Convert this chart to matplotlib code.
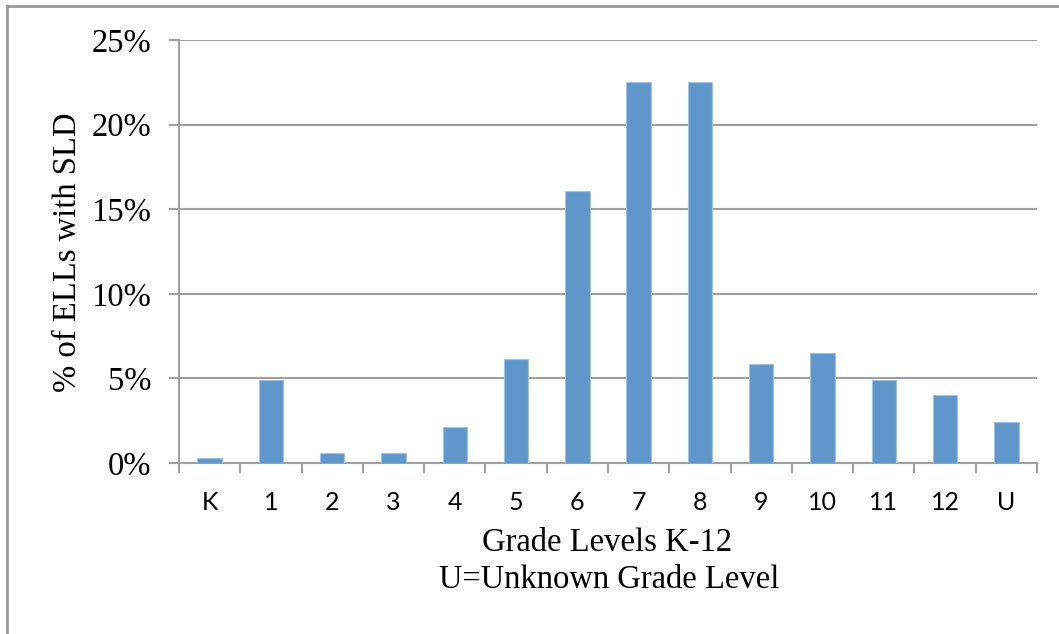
import matplotlib
matplotlib.use("Agg")
import matplotlib.pyplot as plt
from matplotlib.lines import Line2D
import numpy as np

# share of ELLs with SLD by grade level
grades = ["K", "1", "2", "3", "4", "5", "6", "7", "8", "9", "10", "11", "12", "U"]
pct_sld = [0.3, 4.9, 0.6, 0.6, 2.15, 6.15, 16.05, 22.5, 22.5, 5.85, 6.5, 4.9, 4.0, 2.45]
y_ticks = [0, 5, 10, 15, 20, 25]

W, H = 1059, 634
fig = plt.figure(figsize=(W / 100, H / 100), dpi=100)
ax = fig.add_axes([179 / W, (H - 463) / H, (1037 - 179) / W, (463 - 40) / H])

x = np.arange(len(grades))
ax.bar(x, pct_sld, width=0.4, color="#6097CB", edgecolor="#A3C2E3", linewidth=0.8, zorder=3)

ax.set_xlim(-0.5, len(grades) - 0.5)
ax.set_ylim(0, 25)

# y axis: Times-like percent labels with horizontal gridlines
ax.set_yticks(y_ticks)
ax.set_yticklabels([f"{v}%" for v in y_ticks], family="Liberation Serif", fontsize=23.5)
ax.yaxis.grid(True, color="#A0A0A0", linewidth=1.5, zorder=1)
ax.tick_params(axis="y", length=7, width=1.5, color="#A0A0A0", pad=13)

# x axis: ticks between categories, labels centred under bars
ax.set_xticks(np.arange(len(grades) + 1) - 0.5)
ax.set_xticklabels([])
ax.set_xticks(x, minor=True)
ax.set_xticklabels(grades, minor=True, family="Lato", fontsize=18)
ax.tick_params(axis="x", which="major", length=7, width=1.5, color="#A0A0A0")
ax.tick_params(axis="x", which="minor", length=0, pad=20)

for side in ["top", "right"]:
    ax.spines[side].set_visible(False)
for side in ["left", "bottom"]:
    ax.spines[side].set_color("#A0A0A0")
    ax.spines[side].set_linewidth(1.5)

# axis titles
fig.text(68 / W, 1 - 252 / H, "% of ELLs with SLD", rotation=90, ha="center", va="center",
         family="Liberation Serif", fontsize=23.5)
fig.text(607 / W, 1 - 543 / H, "Grade Levels K-12", ha="center", va="center",
         family="Liberation Serif", fontsize=23.5)
fig.text(609 / W, 1 - 580 / H, "U=Unknown Grade Level", ha="center", va="center",
         family="Liberation Serif", fontsize=23.5)

# outer chart border (left and top edges visible)
fig.add_artist(Line2D([7 / W, 7 / W], [0, 1 - 6 / H], color="#999999", linewidth=2))
fig.add_artist(Line2D([7 / W, 1], [1 - 6 / H, 1 - 6 / H], color="#999999", linewidth=2))

fig.savefig("out.png", dpi=100)
